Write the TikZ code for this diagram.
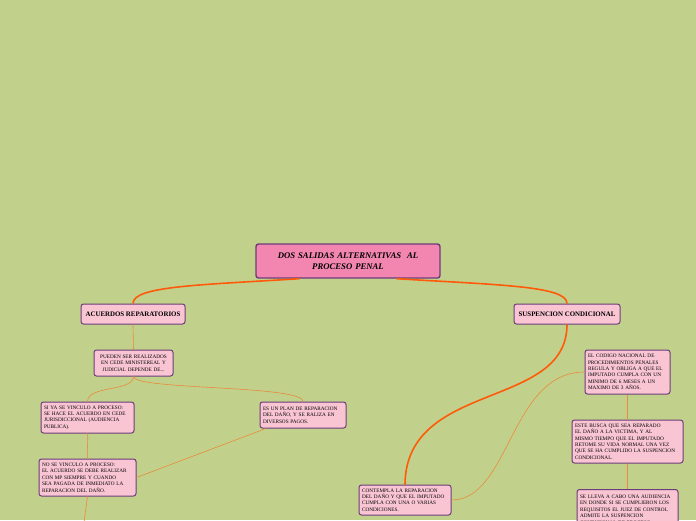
\documentclass[tikz,border=0pt]{standalone}
\usepackage{fontspec}
\setmainfont{Liberation Serif}
\definecolor{bgleaf}{HTML}{C1D18B}
\definecolor{boxpink}{HTML}{F9C5D3}
\definecolor{rootpink}{HTML}{F386B0}
\definecolor{edgeplum}{HTML}{6D3C7A}
\definecolor{mainorange}{HTML}{FF5A0A}
\definecolor{twigorange}{HTML}{E98A3C}
\tikzset{
  idea/.style={draw=edgeplum, fill=boxpink, line width=1pt, rounded corners=2.5pt,
    font=\fontsize{5.25}{6.4}\selectfont, inner xsep=3pt, inner ysep=2pt, align=left},
  root/.style={idea, fill=rootpink, line width=1.4pt, align=center,
    font=\fontsize{8.7}{10.5}\selectfont\bfseries\itshape},
  branch/.style={idea, font=\fontsize{6.9}{8}\selectfont\bfseries, align=center},
  bigline/.style={mainorange, line width=1.6pt},
  twig/.style={twigorange, line width=0.6pt},
}
\def\bigline{\draw[bigline]}
\def\twig{\draw[twig]}
\begin{document}
\begin{tikzpicture}[x=1pt,y=-1pt]
\fill[bgleaf] (0,0) rectangle (696,520);
\useasboundingbox (0,0) rectangle (696,520);
% left side
\node[root, minimum width=184pt, minimum height=34pt, text width=176pt] (root) at (348,261)
  {DOS SALIDAS ALTERNATIVAS\ \ AL\\ PROCESO PENAL};
\node[branch, minimum width=104pt, minimum height=20pt] (acuerdos) at (133,314) {ACUERDOS REPARATORIOS};
\node[idea, align=center, text width=73pt, minimum height=26pt] (pueden) at (133.5,363)
  {PUEDEN SER REALIZADOS\\ EN CEDE MINISTEREAL Y\\ JUDICIAL DEPENDE DE...};
\node[idea, text width=87pt, minimum height=31pt] (siya) at (87.5,417.5)
  {SI YA SE VINCULO A PROCESO:\\ SE HACE EL ACUERDO EN CEDE\\ JURISDICCIONAL (AUDIENCIA\\ PUBLICA).};
\node[idea, text width=80pt, minimum height=26pt] (plan) at (303,415)
  {ES UN PLAN DE REPARACION\\ DEL DAÑO, Y SE RALIZA EN\\ DIVERSOS PAGOS.};
\node[idea, text width=91pt, minimum height=37pt] (nose) at (87.5,477.5)
  {NO SE VINCULO A PROCESO:\\ EL ACUERDO SE DEBE REALIZAR\\ CON MP SIEMPRE Y CUANDO\\ SEA PAGADA DE INMEDIATO LA\\ REPARACION DEL DAÑO.};
\coordinate (offpage) at (83,530);
% right side
\node[branch, minimum width=106pt, minimum height=20pt] (susp) at (567,314) {SUSPENCION CONDICIONAL};
\node[idea, text width=79pt, minimum height=44pt] (codigo) at (627.5,372)
  {EL CODIGO NACIONAL DE\\ PROCEDIMIENTOS PENALES\\ REGULA Y OBLIGA A QUE EL\\ IMPUTADO CUMPLA CON UN\\ MINIMO DE 6 MESES A UN\\ MAXIMO DE 3 AÑOS.};
\node[idea, text width=105pt, minimum height=43pt] (busca) at (627.5,441.5)
  {ESTE BUSCA QUE SEA REPARADO\\ EL DAÑO A LA VICTIMA, Y AL\\ MISMO TIEMPO QUE EL IMPUTADO\\ RETOME SU VIDA NORMAL UNA VEZ\\ QUE SE HA CUMPLIDO LA SUSPENCION\\ CONDICIONAL.};
\node[idea, text width=95pt, minimum height=40pt, anchor=north] (lleva) at (627.5,489)
  {SE LLEVA A CABO UNA AUDIENCIA\\ EN DONDE SI SE CUMPLIERON LOS\\ REQUISITOS EL JUEZ DE CONTROL\\ ADMITE LA SUSPENCION\\ CONDICIONAL DE PROCESO.};
\node[idea, text width=86pt, minimum height=30pt] (contempla) at (405,500)
  {CONTEMPLA LA REPARACION\\ DEL DAÑO Y QUE EL IMPUTADO\\ CUMPLA CON UNA O VARIAS\\ CONDICIONES.};
% connectors
\bigline (root.200) .. controls (200,285) and (133,286) .. (acuerdos.north);
\bigline (root.340) .. controls (500,285) and (567,286) .. (susp.north);
\bigline (susp.south) .. controls (567,410) and (406,380) .. (contempla.north);
\twig (acuerdos.south) -- (pueden.north);
\twig (pueden.south) .. controls (133,392) and (88,385) .. (siya.north);
\twig (pueden.south) .. controls (133,390) and (303,385) .. (plan.north);
\twig (siya.south) to[out=-85, in=95] (nose.north);
\twig (nose.south) -- (offpage);
\twig (nose.east) -- (plan.200);
\twig (contempla.east) .. controls (510,500) and (510,372) .. (codigo.west);
\twig (codigo.south) -- (busca.north);
\twig (busca.south) -- (lleva.north);
\end{tikzpicture}
\end{document}
